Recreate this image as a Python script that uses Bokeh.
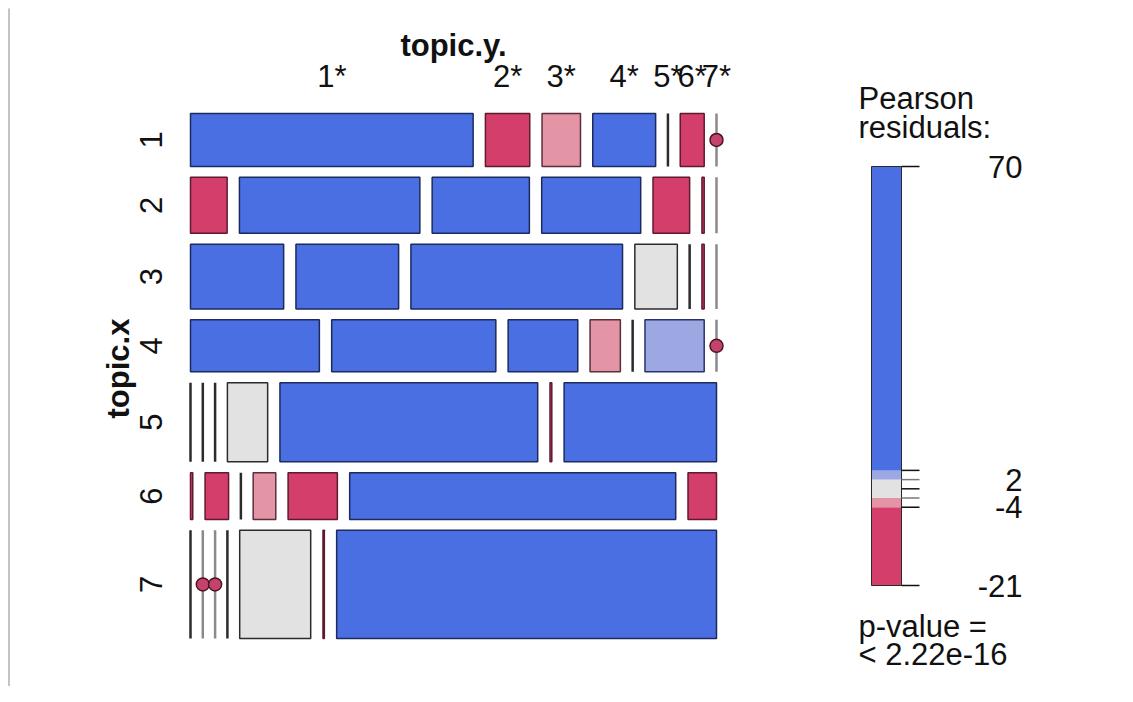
from bokeh.plotting import figure
from bokeh.models import Range1d, ColumnDataSource
from bokeh.embed import file_html
from bokeh.resources import INLINE
from bokeh.core.properties import value
import math

# ---------------- data ----------------
row_labels = ["1", "2", "3", "4", "5", "6", "7"]
col_labels = ["1*", "2*", "3*", "4*", "5*", "6*", "7*"]

# share of all cases in each topic.x row (percent) -> tile heights
row_share = [11.5, 12.2, 14.1, 11.3, 17.2, 10.2, 23.5]

# share of each topic.y column within a row (percent) -> tile widths
share_x1 = [62.5, 9.8, 8.5, 13.9, 0.0, 5.3, 0.0]
share_x2 = [8.1, 39.9, 21.5, 21.9, 8.1, 0.5, 0.0]
share_x3 = [20.6, 22.7, 46.8, 9.4, 0.0, 0.5, 0.0]
share_x4 = [28.5, 36.3, 15.4, 6.7, 0.0, 13.1, 0.0]
share_x5 = [0.0, 0.0, 0.0, 8.9, 57.0, 0.4, 33.7]
share_x6 = [0.5, 5.2, 0.0, 5.0, 10.9, 72.1, 6.3]
share_x7 = [0.0, 0.0, 0.0, 0.0, 15.7, 0.3, 84.0]

# estimated Pearson residuals (sign / band read from the shading)
resid_x1 = [70, -10, -3, 8, 0, -8, -3]
resid_x2 = [-9, 30, 15, 12, -8, -6, -1]
resid_x3 = [20, 25, 40, 0.5, 0, -7, -1]
resid_x4 = [30, 35, 10, -3, 0, 3, -2]
resid_x5 = [0, 0, 0, 1, 50, -6, 45]
resid_x6 = [-6, -8, 0, -3, -10, 55, -9]
resid_x7 = [0, -1, -1, 0, 1, -6, 60]

# cells with (near) zero observed counts: (row, col)
near_zero_cells = [(0, 6), (1, 6), (2, 6), (3, 6), (6, 1), (6, 2)]
zero_cells = [(0, 6), (3, 6), (6, 1), (6, 2)]

legend_min, legend_max = -21, 70
legend_breaks = [-21, -4, -2, 2, 4, 70]
legend_ticks = [70, 4, 2, 0, -2, -4, -21]
legend_tick_labels = {70: "70", 2: "2", -4: "-4", -21: "-21"}
p_value_text = ["p-value =", "< 2.22e-16"]

shares = [share_x1, share_x2, share_x3, share_x4, share_x5, share_x6, share_x7]
resids = [resid_x1, resid_x2, resid_x3, resid_x4, resid_x5, resid_x6, resid_x7]

# ---------------- styling ----------------
FONT = value("Liberation Sans")
BLUE, LBLUE, GREY, LPINK, RED = "#4A6FE3", "#9DA8E2", "#E2E2E2", "#E495A5", "#D33F6A"
BORDER = {BLUE: "#1c2a5e", LBLUE: "#28336a", GREY: "#2b2b2b", LPINK: "#5a2f3b", RED: "#5e1a2e"}


def shade(r):
    if r > 4:
        return BLUE
    if r > 2:
        return LBLUE
    if r >= -2:
        return GREY
    if r >= -4:
        return LPINK
    return RED


W, H = 1117, 686
XGAP, YGAP = 2.72, 2.35
XT = 100 + 6 * XGAP
YT = 100 + 6 * YGAP
# pixel placement of the mosaic inside the figure
L, R_, T, B = 190, 716, 113, 638
ux = XT / (R_ - L)
uy = YT / (B - T)


def fx(px):
    return (px - L) * ux


def fy(py):
    return (py - T) * uy


p = figure(width=W, height=H, output_backend="svg", toolbar_location=None,
           x_range=Range1d(fx(0), fx(W)), y_range=Range1d(fy(H), fy(0)),
           min_border=0, outline_line_color=None)
p.axis.visible = False
p.grid.visible = False
p.background_fill_color = "white"

# residual scale for the legend
LEG_TOP, LEG_BOT = 166, 585
res_per_px = (legend_max - legend_min) / (LEG_BOT - LEG_TOP)
p.extra_y_ranges = {"res": Range1d(legend_min - (H - LEG_BOT) * res_per_px,
                                   legend_max + LEG_TOP * res_per_px)}

# ---------------- mosaic tiles ----------------
cell = dict(l=[], r=[], t=[], b=[], fill=[], line=[], lw=[])
row_centers = []
circ_x, circ_y = [], []
row1_centers = []
ycur = 0.0
for i, h in enumerate(row_share):
    top, bot = ycur, ycur + h
    row_centers.append((top + bot) / 2)
    tot = sum(shares[i])
    xcur = 0.0
    for j, w in enumerate(shares[i]):
        w = w * 100.0 / tot
        left, right = xcur, xcur + w
        fc = shade(resids[i][j])
        lc = BORDER[fc]
        if (i, j) in near_zero_cells:
            lc = "#8a8a8a"
        cell["l"].append(left)
        cell["r"].append(right)
        cell["t"].append(top)
        cell["b"].append(bot)
        cell["fill"].append(fc)
        cell["line"].append(lc)
        cell["lw"].append(2.5 if w < 0.2 else 1.5)
        if i == 0:
            row1_centers.append((left + right) / 2)
        if (i, j) in zero_cells:
            circ_x.append((left + right) / 2)
            circ_y.append((top + bot) / 2)
        xcur = right + XGAP
    ycur = bot + YGAP

src = ColumnDataSource(cell)
p.quad(left="l", right="r", top="t", bottom="b", fill_color="fill",
       line_color="line", line_width="lw", source=src)
p.scatter(circ_x, circ_y, size=13, fill_color="#C5436A", line_color="#4a1426", line_width=1.5)

# ---------------- labels ----------------
p.text(x=[XT / 2], y=[fy(45)], text=["topic.y."], text_font=FONT, text_font_size="31px",
       text_font_style="bold", text_align="center", text_baseline="alphabetic", text_color="#111111")
p.text(x=row1_centers, y=[fy(76)] * 7, text=col_labels, text_font=FONT, text_font_size="31px",
       text_align="center", text_baseline="alphabetic", text_color="#111111")
p.text(x=[fx(150)] * 7, y=row_centers, text=row_labels, angle=math.pi / 2, text_font=FONT,
       text_font_size="31px", text_align="center", text_baseline="middle", text_color="#111111")
p.text(x=[fx(118)], y=[fy(368)], text=["topic.x"], angle=math.pi / 2, text_font=FONT,
       text_font_size="31px", text_font_style="bold", text_align="center",
       text_baseline="middle", text_color="#111111")

# ---------------- legend ----------------
p.text(x=[fx(858)] * 2, y=[fy(98), fy(127)], text=["Pearson", "residuals:"], text_font=FONT,
       text_font_size="31px", text_align="left", text_baseline="alphabetic", text_color="#111111")

band_colors = [RED, LPINK, GREY, LBLUE, BLUE]
bx0, bx1 = fx(871), fx(901)
p.quad(left=[bx0] * 5, right=[bx1] * 5, bottom=legend_breaks[:-1], top=legend_breaks[1:],
       fill_color=band_colors, line_color=None, y_range_name="res")
p.quad(left=[bx0], right=[bx1], bottom=[legend_min], top=[legend_max], fill_color=None,
       line_color="#2a2a2a", line_width=1, y_range_name="res")
tick_cols = ["#111111" if t in (70, 4, 0, -4, -21) else "#777777" for t in legend_ticks]
p.segment(x0=[bx1] * len(legend_ticks), x1=[fx(919)] * len(legend_ticks), y0=legend_ticks,
          y1=legend_ticks, line_color=tick_cols, line_width=1.5, y_range_name="res")
lab_vals = list(legend_tick_labels.keys())
p.text(x=[fx(1022)] * len(lab_vals), y=lab_vals, text=[legend_tick_labels[v] for v in lab_vals],
       text_font=FONT, text_font_size="31px", text_align="right", text_baseline="middle",
       text_color="#111111", y_range_name="res")
p.text(x=[fx(858)] * 2, y=[fy(626), fy(654)], text=p_value_text, text_font=FONT,
       text_font_size="31px", text_align="left", text_baseline="alphabetic", text_color="#111111")

# left page frame line seen in the reference
p.segment(x0=[fx(8.5)], x1=[fx(8.5)], y0=[fy(8)], y1=[fy(H)], line_color="#c4c4c4", line_width=2)

open("out.html", "w").write(file_html(p, INLINE))
